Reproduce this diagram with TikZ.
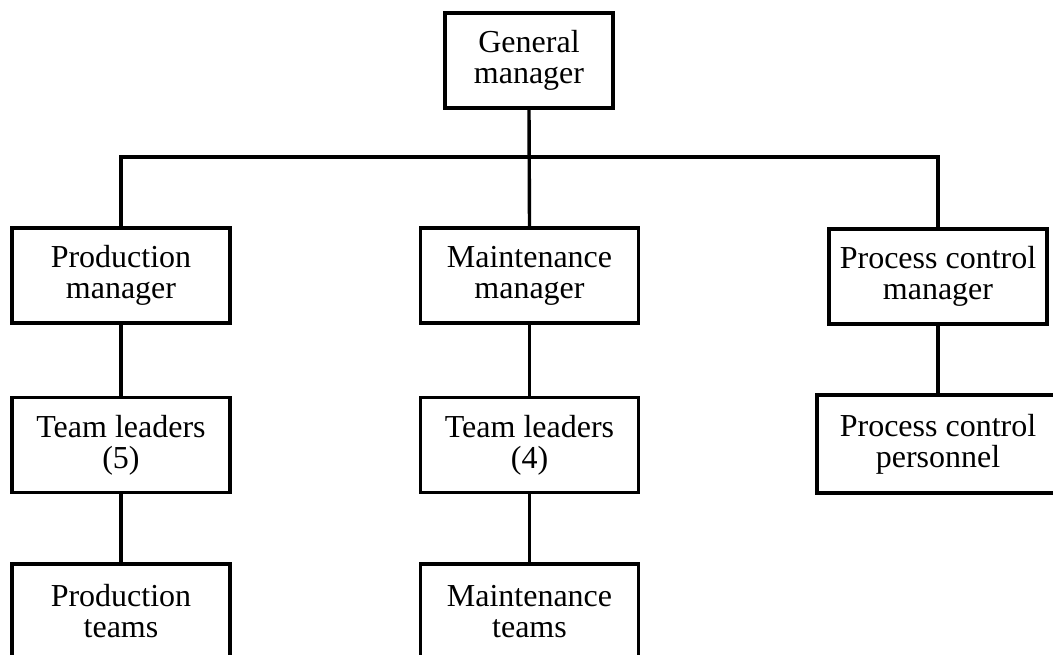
\documentclass[tikz,border=0pt]{standalone}
\usepackage{fontspec}
\setmainfont{Liberation Serif}
\begin{document}
\begin{tikzpicture}[x=1pt,y=-1pt,
  orgbox/.style={draw=black, line width=3.4pt, fill=white, align=center, inner sep=0pt,
    minimum height=95pt, font=\fontsize{32}{31}\selectfont},
  w218/.style={minimum width=218pt},
  link/.style={draw=black, line width=3.4pt, line cap=butt}]
\useasboundingbox (0,0) rectangle (1053,654);
\clip (0,0) rectangle (1053,654);
\node[orgbox, minimum width=168pt] (gm) at (529,60.5) {General\\manager};
\node[orgbox, w218] (pm) at (121,275.5) {Production\\manager};
\node[orgbox, w218] (mm) at (529.5,275.5) {Maintenance\\manager};
\node[orgbox, w218] (pcm) at (938,276.5) {Process control\\manager};
\node[orgbox, w218] (tl5) at (121,445) {Team leaders\\(5)};
\node[orgbox, w218] (tl4) at (529.5,445) {Team leaders\\(4)};
\node[orgbox, minimum width=242pt, minimum height=98pt] (pcp) at (938,444) {Process control\\personnel};
\node[orgbox, w218] (pt) at (121,611.5) {Production\\teams};
\node[orgbox, w218] (mt) at (529.5,611.5) {Maintenance\\teams};
\coordinate (bus) at (529,157);
\draw[link] (gm.south) -- (mm.north);
\draw[link] (pm.north) |- (bus) -| (pcm.north);
\draw[link] (pm.south) -- (tl5.north);
\draw[link] (tl5.south) -- (pt.north);
\draw[link] (mm.south) -- (tl4.north);
\draw[link] (tl4.south) -- (mt.north);
\draw[link] (pcm.south) -- (pcp.north);
\end{tikzpicture}
\end{document}
